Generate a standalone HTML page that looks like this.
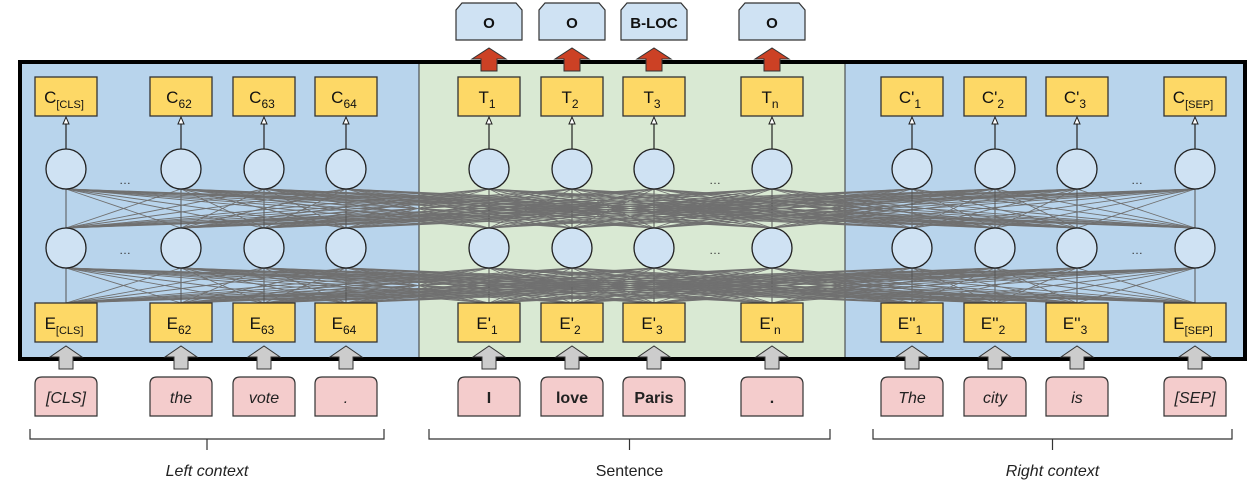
<!DOCTYPE html>
<html><head><meta charset="utf-8"><style>
html,body{margin:0;padding:0;background:#fff;}
svg{display:block;font-family:"Liberation Sans",Arial,sans-serif;}
</style></head><body>
<svg id="fig" width="1260" height="492" viewBox="0 0 1260 492" xmlns="http://www.w3.org/2000/svg">
<rect x="19" y="61" width="400" height="299" fill="#b8d4ec"/>
<rect x="419" y="61" width="426" height="299" fill="#d9e9d3"/>
<rect x="845" y="61" width="400" height="299" fill="#b8d4ec"/>
<line x1="419" y1="61" x2="419" y2="360" stroke="#333" stroke-width="1"/>
<line x1="845" y1="61" x2="845" y2="360" stroke="#333" stroke-width="1"/>
<g id="conn"></g>
<g id="nodes"></g>
<rect x="20" y="62" width="1225" height="297" fill="none" stroke="#000" stroke-width="4"/>
<g id="outer"></g>
</svg>
<script>
const NS="http://www.w3.org/2000/svg";
const xs=[66,181,264,346,489,572,654,772,912,995,1077,1195];
const cLabels=[["C","[CLS]"],["C","62"],["C","63"],["C","64"],["T","1"],["T","2"],["T","3"],["T","n"],["C'","1"],["C'","2"],["C'","3"],["C","[SEP]"]];
const eLabels=[["E","[CLS]"],["E","62"],["E","63"],["E","64"],["E'","1"],["E'","2"],["E'","3"],["E'","n"],["E''","1"],["E''","2"],["E''","3"],["E","[SEP]"]];
const tokens=["[CLS]","the","vote",".","I","love","Paris",".","The","city","is","[SEP]"];
const outLabels={4:"O",5:"O",6:"B-LOC",7:"O"};
function el(tag,attrs,parent){const e=document.createElementNS(NS,tag);for(const k in attrs)e.setAttribute(k,attrs[k]);parent.appendChild(e);return e;}
const conn=document.getElementById('conn'),nodes=document.getElementById('nodes'),outer=document.getElementById('outer');
// connections
[[303,268],[228,189]].forEach(([y1,y2])=>{
 xs.forEach(a=>xs.forEach(b=>{
  const l=el('line',{x1:a,y1:y1,x2:b,y2:y2,stroke:a===b?'#555':'#707070','stroke-width':a===b?1:0.9},conn);
  
  
 }));
});
function box(x,y,lab,name,parent){
 const r=el('rect',{x:x-31,y:y,width:62,height:39,fill:'#fdd866',stroke:'#333','stroke-width':1.3},parent);
 
 
 const t=el('text',{x:x-2,y:y+26,'text-anchor':'middle','font-size':17,fill:'#111'},parent);
 
 
 t.textContent=lab[0];
 const s=el('tspan',{'font-size':lab[1].length>2?11:12,dy:5},t);s.textContent=lab[1];
}
xs.forEach((x,i)=>{
 box(x,77,cLabels[i],'output-embedding-'+i,nodes);
 box(x,303,eLabels[i],'input-embedding-'+i,nodes);
 el('line',{x1:x,y1:150,x2:x,y2:119,stroke:'#222','stroke-width':1.2},nodes);
 el('path',{d:`M${x-3} 124 L${x} 117 L${x+3} 124 Z`,fill:'#fff',stroke:'#222'},nodes);
 [169,248].forEach((cy,k)=>{
  const c=el('circle',{cx:x,cy:cy,r:20,fill:'#cfe2f3',stroke:'#222','stroke-width':1.3},nodes);
  
  
 });
 // gray input arrow
 const ga=el('path',{d:`M${x-7} 369 L${x+7} 369 L${x+7} 357 L${x+16} 357 L${x} 346 L${x-16} 357 L${x-7} 357 Z`,fill:'#cccccc',stroke:'#333','stroke-width':1},outer);
 
 
 // token
 const tb=el('path',{d:`M${x-31} 416 L${x-31} 384 Q${x-31} 377 ${x-24} 377 L${x+24} 377 Q${x+31} 377 ${x+31} 384 L${x+31} 416 Z`,fill:'#f4cccc',stroke:'#333','stroke-width':1.2},outer);
 
 
 const bold=i>=4&&i<=7;
 const tt=el('text',{x:x,y:403,'text-anchor':'middle','font-size':16,'font-style':bold?'normal':'italic','font-weight':bold?'bold':'normal',fill:'#222'},outer);
 
 
 tt.textContent=tokens[i];
 if(outLabels[i]){
  const ra=el('path',{d:`M${x-8} 71 L${x+8} 71 L${x+8} 59 L${x+17} 59 L${x} 48 L${x-17} 59 L${x-8} 59 Z`,fill:'#cc4125',stroke:'#333','stroke-width':1},outer);
  
  
  const ob=el('path',{d:`M${x-33} 40 L${x-33} 10 L${x-27} 3 L${x+27} 3 L${x+33} 10 L${x+33} 40 Z`,fill:'#cfe2f3',stroke:'#333','stroke-width':1.2},outer);
  
  
  const ot=el('text',{x:x,y:28,'text-anchor':'middle','font-size':15,'font-weight':'bold',fill:'#111'},outer);
  
  
  ot.textContent=outLabels[i];
 }
});
// ellipses
[[125,184],[125,254],[715,184],[715,254],[1137,184],[1137,254]].forEach(([x,y])=>{
 const t=el('text',{x:x,y:y,'text-anchor':'middle','font-size':12,fill:'#333'},nodes);
 
 
 t.textContent='…';
});
// brackets
[[30,384,'Left context',true],[429,830,'Sentence',false],[873,1232,'Right context',true]].forEach(([a,b,lab,it])=>{
 const m=(a+b)/2;
 const p=el('path',{d:`M${a} 429 L${a} 439 L${b} 439 L${b} 429 M${m} 439 L${m} 450`,fill:'none',stroke:'#333','stroke-width':1.2},outer);
 
 
 const t=el('text',{x:m,y:476,'text-anchor':'middle','font-size':16,'font-style':it?'italic':'normal',fill:'#222'},outer);
 
 
 t.textContent=lab;
});
</script>
</body></html>
